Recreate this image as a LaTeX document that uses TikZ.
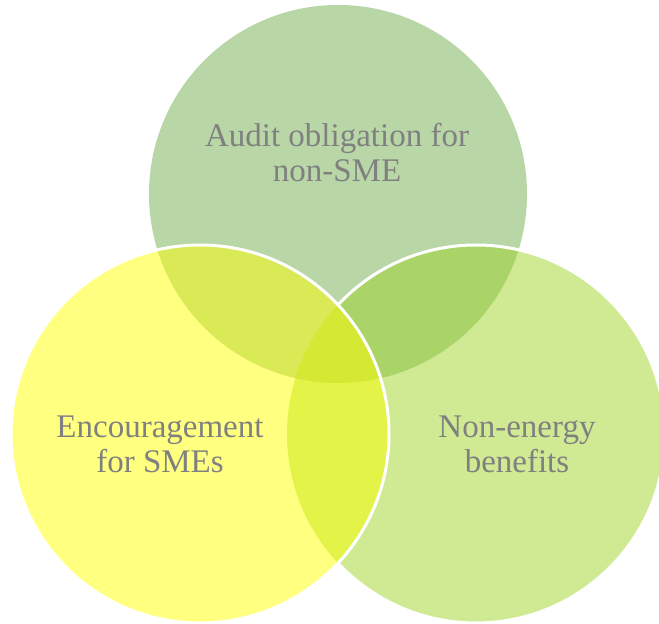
\documentclass[tikz,border=0pt]{standalone}
\usepackage{fontspec}
\setmainfont{Liberation Serif}
\definecolor{cT}{HTML}{B8D6A6}
\definecolor{cL}{HTML}{FFFF80}
\definecolor{cR}{HTML}{D0E993}
\definecolor{cTL}{HTML}{DAE956}
\definecolor{cTR}{HTML}{AAD468}
\definecolor{cLR}{HTML}{E3F347}
\definecolor{cTLR}{HTML}{D4E834}
\definecolor{textgray}{HTML}{808080}
\begin{document}
\begin{tikzpicture}[x=1pt,y=1pt,
  lbl/.style={text=textgray, align=center, font=\fontsize{33}{35}\selectfont, inner sep=0pt},
  rim/.style={draw=white, line width=3pt}]
\useasboundingbox (0,0) rectangle (659,624);
\clip (0,0) rectangle (659,624);
\coordinate (ct) at (338,430);
\coordinate (cl) at (200,190);
\coordinate (cr) at (476,190);
% top circle
\fill[cT] (ct) circle (189pt);
% right circle
\fill[cR] (cr) circle (189pt);
\begin{scope}
  \clip (ct) circle (189pt);
  \fill[cTR] (cr) circle (189pt);
\end{scope}
\path[rim] (cr) circle (189pt);
% left circle
\fill[cL] (cl) circle (189pt);
\begin{scope}
  \clip (cl) circle (189pt);
  \fill[cTL] (ct) circle (189pt);
  \fill[cLR] (cr) circle (189pt);
  \clip (ct) circle (189pt);
  \fill[cTLR] (cr) circle (189pt);
\end{scope}
\path[rim] (cl) circle (189pt);
% labels
\node[lbl] (audit) at (337,471) {Audit obligation for\\non-SME};
\node[lbl] (enc) at (160,180) {Encouragement\\for SMEs};
\node[lbl] (nonen) at (517,180) {Non-energy\\benefits};
\end{tikzpicture}
\end{document}
